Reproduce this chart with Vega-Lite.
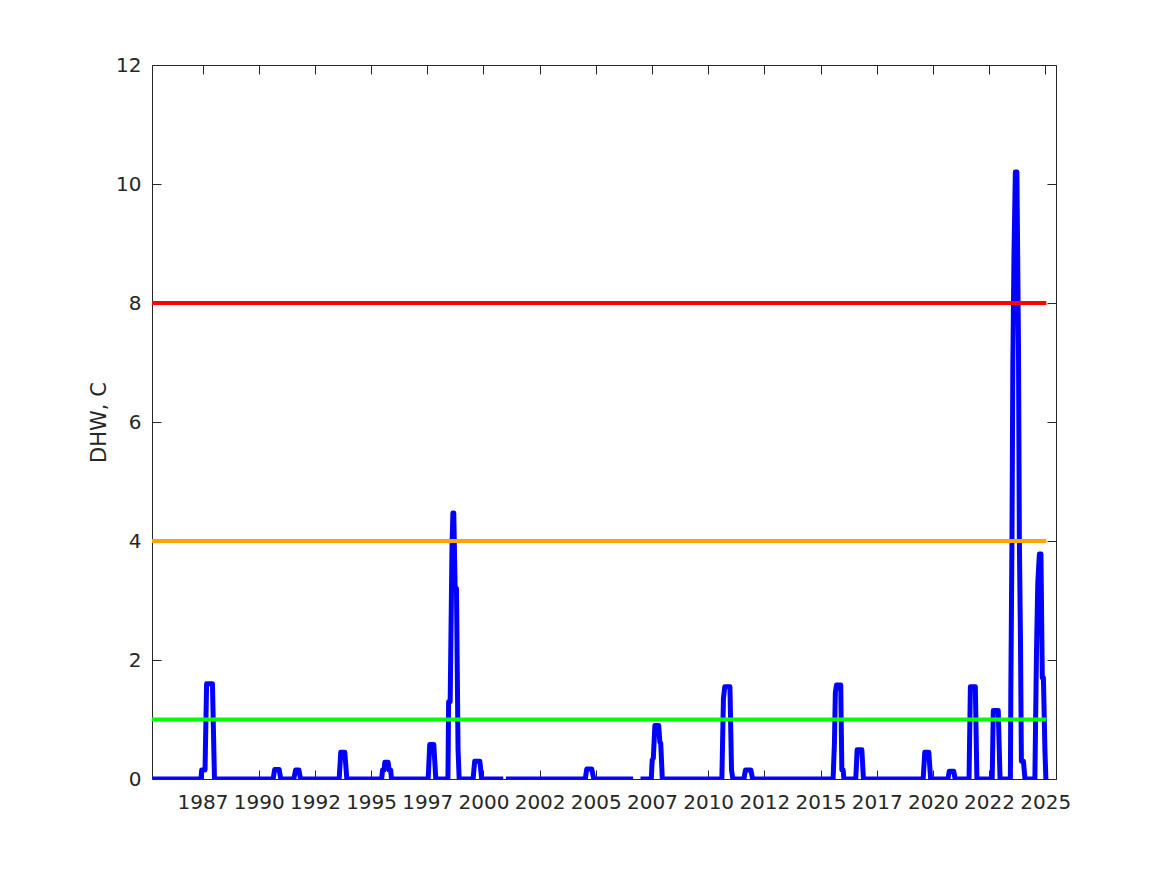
{
  "$schema": "https://vega.github.io/schema/vega-lite/v6.json",
  "width": 904,
  "height": 714,
  "autosize": {"type": "none"},
  "padding": {"left": 152, "top": 65, "right": 111, "bottom": 96},
  "background": "white",
  "config": {
    "view": {"stroke": "#262626", "strokeWidth": 1},
    "font": "DejaVu Sans",
    "axis": {
      "labelFont": "DejaVu Sans",
      "titleFont": "DejaVu Sans",
      "labelColor": "#262626",
      "titleColor": "#262626",
      "tickColor": "#262626",
      "tickWidth": 1,
      "grid": false,
      "domain": false
    }
  },
  "datasets": {
    "dhw": [
      {"t": 1985.25, "v": 0, "s": 1},
      {"t": 1987.43, "v": 0, "s": 1},
      {"t": 1987.46, "v": 0.15, "s": 1},
      {"t": 1987.61, "v": 0.15, "s": 1},
      {"t": 1987.68, "v": 1.6, "s": 1},
      {"t": 1987.94, "v": 1.6, "s": 1},
      {"t": 1988.03, "v": 0, "s": 1},
      {"t": 1990.64, "v": 0, "s": 1},
      {"t": 1990.71, "v": 0.16, "s": 1},
      {"t": 1990.91, "v": 0.16, "s": 1},
      {"t": 1990.98, "v": 0, "s": 1},
      {"t": 1991.56, "v": 0, "s": 1},
      {"t": 1991.64, "v": 0.15, "s": 1},
      {"t": 1991.79, "v": 0.15, "s": 1},
      {"t": 1991.86, "v": 0, "s": 1},
      {"t": 1993.58, "v": 0, "s": 1},
      {"t": 1993.65, "v": 0.45, "s": 1},
      {"t": 1993.83, "v": 0.45, "s": 1},
      {"t": 1993.92, "v": 0, "s": 1},
      {"t": 1995.47, "v": 0, "s": 1},
      {"t": 1995.51, "v": 0.15, "s": 1},
      {"t": 1995.58, "v": 0.15, "s": 1},
      {"t": 1995.61, "v": 0.28, "s": 1},
      {"t": 1995.76, "v": 0.28, "s": 1},
      {"t": 1995.8, "v": 0.15, "s": 1},
      {"t": 1995.87, "v": 0.15, "s": 1},
      {"t": 1995.91, "v": 0, "s": 1},
      {"t": 1997.54, "v": 0, "s": 1},
      {"t": 1997.61, "v": 0.58, "s": 1},
      {"t": 1997.79, "v": 0.58, "s": 1},
      {"t": 1997.88, "v": 0, "s": 1},
      {"t": 1998.42, "v": 0, "s": 1},
      {"t": 1998.45, "v": 1.3, "s": 1},
      {"t": 1998.52, "v": 1.3, "s": 1},
      {"t": 1998.6, "v": 3.9, "s": 1},
      {"t": 1998.64, "v": 4.47, "s": 1},
      {"t": 1998.68, "v": 4.47, "s": 1},
      {"t": 1998.74, "v": 3.2, "s": 1},
      {"t": 1998.8, "v": 3.2, "s": 1},
      {"t": 1998.87, "v": 0.5, "s": 1},
      {"t": 1998.92, "v": 0, "s": 1},
      {"t": 1999.54, "v": 0, "s": 1},
      {"t": 1999.61, "v": 0.3, "s": 1},
      {"t": 1999.84, "v": 0.3, "s": 1},
      {"t": 1999.92, "v": 0, "s": 1},
      {"t": 2000.88, "v": 0, "s": 1},
      {"t": 2001.0, "v": 0, "s": 2},
      {"t": 2004.53, "v": 0, "s": 2},
      {"t": 2004.6, "v": 0.17, "s": 2},
      {"t": 2004.82, "v": 0.17, "s": 2},
      {"t": 2004.91, "v": 0, "s": 2},
      {"t": 2006.66, "v": 0, "s": 2},
      {"t": 2006.99, "v": 0, "s": 3},
      {"t": 2007.47, "v": 0, "s": 3},
      {"t": 2007.51, "v": 0.32, "s": 3},
      {"t": 2007.56, "v": 0.35, "s": 3},
      {"t": 2007.63, "v": 0.9, "s": 3},
      {"t": 2007.8, "v": 0.9, "s": 3},
      {"t": 2007.85, "v": 0.62, "s": 3},
      {"t": 2007.89, "v": 0.6, "s": 3},
      {"t": 2007.96, "v": 0, "s": 3},
      {"t": 2010.61, "v": 0, "s": 3},
      {"t": 2010.68, "v": 1.35, "s": 3},
      {"t": 2010.74, "v": 1.55, "s": 3},
      {"t": 2010.97, "v": 1.55, "s": 3},
      {"t": 2011.04, "v": 0.15, "s": 3},
      {"t": 2011.1, "v": 0, "s": 3},
      {"t": 2011.59, "v": 0, "s": 3},
      {"t": 2011.66, "v": 0.15, "s": 3},
      {"t": 2011.9, "v": 0.15, "s": 3},
      {"t": 2011.98, "v": 0, "s": 3},
      {"t": 2015.56, "v": 0, "s": 3},
      {"t": 2015.62, "v": 0.6, "s": 3},
      {"t": 2015.66, "v": 1.45, "s": 3},
      {"t": 2015.71, "v": 1.58, "s": 3},
      {"t": 2015.9, "v": 1.58, "s": 3},
      {"t": 2015.95, "v": 0.15, "s": 3},
      {"t": 2016.01, "v": 0.15, "s": 3},
      {"t": 2016.04, "v": 0, "s": 3},
      {"t": 2016.57, "v": 0, "s": 3},
      {"t": 2016.63, "v": 0.49, "s": 3},
      {"t": 2016.84, "v": 0.49, "s": 3},
      {"t": 2016.91, "v": 0, "s": 3},
      {"t": 2019.57, "v": 0, "s": 3},
      {"t": 2019.64, "v": 0.45, "s": 3},
      {"t": 2019.82, "v": 0.45, "s": 3},
      {"t": 2019.9, "v": 0, "s": 3},
      {"t": 2020.67, "v": 0, "s": 3},
      {"t": 2020.73, "v": 0.13, "s": 3},
      {"t": 2020.93, "v": 0.13, "s": 3},
      {"t": 2020.99, "v": 0, "s": 3},
      {"t": 2021.61, "v": 0, "s": 3},
      {"t": 2021.67, "v": 1.55, "s": 3},
      {"t": 2021.89, "v": 1.55, "s": 3},
      {"t": 2021.96, "v": 0, "s": 3},
      {"t": 2022.64, "v": 0, "s": 3},
      {"t": 2022.69, "v": 1.15, "s": 3},
      {"t": 2022.91, "v": 1.15, "s": 3},
      {"t": 2022.99, "v": 0, "s": 3},
      {"t": 2023.45, "v": 0, "s": 3},
      {"t": 2023.47, "v": 1.5, "s": 3},
      {"t": 2023.52, "v": 4.0, "s": 3},
      {"t": 2023.56, "v": 7.0, "s": 3},
      {"t": 2023.61, "v": 8.8, "s": 3},
      {"t": 2023.67, "v": 10.2, "s": 3},
      {"t": 2023.74, "v": 10.2, "s": 3},
      {"t": 2023.81, "v": 7.3, "s": 3},
      {"t": 2023.85, "v": 4.0, "s": 3},
      {"t": 2023.9, "v": 2.3, "s": 3},
      {"t": 2023.94, "v": 0.3, "s": 3},
      {"t": 2024.03, "v": 0.3, "s": 3},
      {"t": 2024.1, "v": 0, "s": 3},
      {"t": 2024.54, "v": 0, "s": 3},
      {"t": 2024.61, "v": 2.1, "s": 3},
      {"t": 2024.67, "v": 3.3, "s": 3},
      {"t": 2024.74, "v": 3.78, "s": 3},
      {"t": 2024.81, "v": 3.78, "s": 3},
      {"t": 2024.87, "v": 1.7, "s": 3},
      {"t": 2024.92, "v": 1.7, "s": 3},
      {"t": 2024.99, "v": 0.45, "s": 3},
      {"t": 2025.03, "v": 0, "s": 3}
    ],
    "thresholds": [
      {"level": 1, "start": 1985.25, "end": 2025.05},
      {"level": 4, "start": 1985.25, "end": 2025.05},
      {"level": 8, "start": 1985.25, "end": 2025.05}
    ]
  },
  "layer": [
    {
      "data": {"name": "dhw"},
      "mark": {"type": "line", "color": "#0000ff", "strokeWidth": 5, "strokeJoin": "round", "clip": true},
      "encoding": {
        "x": {
          "field": "t", "type": "quantitative",
          "scale": {"domain": [1985.25, 2025.48], "nice": false, "zero": false},
          "axis": {
            "orient": "bottom", "title": null,
            "values": [1987.5, 1990, 1992.5, 1995, 1997.5, 2000, 2002.5, 2005, 2007.5, 2010, 2012.5, 2015, 2017.5, 2020, 2022.5, 2025],
            "labelExpr": "'' + floor(datum.value)",
            "tickSize": -9, "labelPadding": 38, "labelBaseline": "alphabetic",
            "labelFontSize": 20, "labelFlush": false
          }
        },
        "y": {
          "field": "v", "type": "quantitative",
          "scale": {"domain": [0, 12], "nice": false},
          "axis": {
            "orient": "left", "title": "DHW, C",
            "values": [0, 2, 4, 6, 8, 10, 12],
            "tickSize": -9, "labelPadding": 20, "labelFontSize": 20,
            "titleFontSize": 21, "titleFontWeight": "normal",
            "titleX": -47, "titleBaseline": "alphabetic"
          }
        },
        "detail": {"field": "s", "type": "nominal"}
      }
    },
    {
      "data": {"name": "thresholds"},
      "mark": {"type": "rule", "strokeWidth": 4},
      "encoding": {
        "y": {
          "field": "level", "type": "quantitative",
          "scale": {"domain": [0, 12], "nice": false},
          "axis": {"orient": "right", "labels": false, "title": null, "values": [0, 2, 4, 6, 8, 10, 12], "tickSize": -9}
        },
        "x": {
          "field": "start", "type": "quantitative",
          "scale": {"domain": [1985.25, 2025.48], "nice": false, "zero": false},
          "axis": {
            "orient": "top", "labels": false, "title": null, "tickSize": -9,
            "values": [1987.5, 1990, 1992.5, 1995, 1997.5, 2000, 2002.5, 2005, 2007.5, 2010, 2012.5, 2015, 2017.5, 2020, 2022.5, 2025]
          }
        },
        "x2": {"field": "end"},
        "color": {
          "field": "level", "type": "nominal",
          "scale": {"domain": [1, 4, 8], "range": ["#00ff00", "#ffa500", "#ff0000"]},
          "legend": null
        }
      }
    }
  ],
  "resolve": {"axis": {"x": "independent", "y": "independent"}}
}
